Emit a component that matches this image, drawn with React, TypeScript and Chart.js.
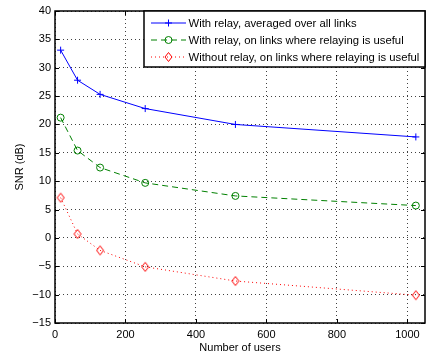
import React, { useEffect, useRef } from 'react';
import { Chart, registerables } from 'chart.js';

Chart.register(...registerables);

const users = [16, 64, 128, 256, 512, 1024];
const relayAll = [33.1, 27.8, 25.3, 22.8, 20.0, 17.8];
const relayUseful = [21.2, 15.4, 12.4, 9.7, 7.4, 5.7];
const noRelayUseful = [7.1, 0.7, -2.2, -5.1, -7.6, -10.1];
const seriesLabels = [
  'With relay, averaged over all links',
  'With relay, on links where relaying is useful',
  'Without relay, on links where relaying is useful',
];
const xTicks = [0, 200, 400, 600, 800, 1000];
const yTicks = [-15, -10, -5, 0, 5, 10, 15, 20, 25, 30, 35, 40];
const xTitle = 'Number of users';
const yTitle = 'SNR (dB)';

const FONT = '"Liberation Sans", Arial, Helvetica, sans-serif';

function makeDiamond(color: string): HTMLCanvasElement {
  const c = document.createElement('canvas');
  c.width = 10;
  c.height = 12;
  const g = c.getContext('2d')!;
  g.strokeStyle = color;
  g.lineWidth = 1;
  g.beginPath();
  g.moveTo(5, 1.5);
  g.lineTo(8.5, 6);
  g.lineTo(5, 10.5);
  g.lineTo(1.5, 6);
  g.closePath();
  g.stroke();
  return c;
}

const STYLES = [
  { color: '#0000ff', dash: [] as number[], marker: 'cross' },
  { color: '#008000', dash: [6, 4], marker: 'circle' },
  { color: '#ff0000', dash: [1, 3], marker: 'diamond' },
];

const framePlugin = {
  id: 'frameAndLegend',
  afterDatasetsDraw(chart: any) {
    const { ctx, chartArea } = chart;
    const { left, right, top, bottom } = chartArea;
    const xs = chart.scales.x;
    const ys = chart.scales.y;
    ctx.save();
    ctx.strokeStyle = '#000';
    ctx.lineWidth = 1;
    ctx.setLineDash([]);
    const tl = 4;
    ctx.beginPath();
    xTicks.forEach((v) => {
      const px = Math.round(xs.getPixelForValue(v)) + 0.5;
      ctx.moveTo(px, bottom);
      ctx.lineTo(px, bottom - tl);
      ctx.moveTo(px, top);
      ctx.lineTo(px, top + tl);
    });
    yTicks.forEach((v) => {
      const py = Math.round(ys.getPixelForValue(v)) + 0.5;
      ctx.moveTo(left, py);
      ctx.lineTo(left + tl, py);
      ctx.moveTo(right, py);
      ctx.lineTo(right - tl, py);
    });
    ctx.stroke();
    ctx.lineWidth = 1.5;
    ctx.strokeRect(left, top, right - left, bottom - top);

    const lw = 281;
    const lh = 56;
    const lx0 = right - lw;
    const ly0 = top;
    ctx.fillStyle = '#fff';
    ctx.fillRect(lx0, ly0, lw, lh);
    ctx.lineWidth = 1.5;
    ctx.strokeStyle = '#000';
    ctx.strokeRect(lx0, ly0, lw, lh);
    ctx.font = '11.3px ' + FONT;
    ctx.textBaseline = 'middle';
    ctx.textAlign = 'left';
    seriesLabels.forEach((label, i) => {
      const st = STYLES[i];
      const y = ly0 + 12 + i * 17;
      ctx.strokeStyle = st.color;
      ctx.lineWidth = 1;
      ctx.setLineDash(st.dash);
      ctx.beginPath();
      ctx.moveTo(lx0 + 7, y);
      ctx.lineTo(lx0 + 42, y);
      ctx.stroke();
      ctx.setLineDash([]);
      const mx = lx0 + 24.5;
      ctx.beginPath();
      if (st.marker === 'cross') {
        ctx.moveTo(mx - 3.5, y);
        ctx.lineTo(mx + 3.5, y);
        ctx.moveTo(mx, y - 3.5);
        ctx.lineTo(mx, y + 3.5);
      } else if (st.marker === 'circle') {
        ctx.arc(mx, y, 3.5, 0, Math.PI * 2);
      } else {
        ctx.moveTo(mx, y - 4.5);
        ctx.lineTo(mx + 3.5, y);
        ctx.lineTo(mx, y + 4.5);
        ctx.lineTo(mx - 3.5, y);
        ctx.closePath();
      }
      ctx.stroke();
      ctx.fillStyle = '#000';
      ctx.fillText(label, lx0 + 44.5, y + 0.5);
    });
    ctx.restore();
  },
};

export default function App() {
  const ref = useRef<HTMLCanvasElement | null>(null);
  useEffect(() => {
    if (!ref.current) return;
    Chart.defaults.font.family = FONT;
    const diamond = makeDiamond('#ff0000');
    const mk = (ys: number[]) => users.map((x, i) => ({ x, y: ys[i] }));
    const chart = new Chart(ref.current, {
      type: 'line',
      data: {
        datasets: [
          {
            label: seriesLabels[0],
            data: mk(relayAll),
            borderColor: '#0000ff',
            borderWidth: 1,
            pointStyle: 'cross',
            pointRadius: 3.5,
            pointBorderColor: '#0000ff',
            pointBorderWidth: 1,
            fill: false,
            tension: 0,
          },
          {
            label: seriesLabels[1],
            data: mk(relayUseful),
            borderColor: '#008000',
            borderWidth: 1,
            borderDash: [6, 4],
            pointStyle: 'circle',
            pointRadius: 3.5,
            pointBackgroundColor: 'rgba(0,0,0,0)',
            pointBorderColor: '#008000',
            pointBorderWidth: 1,
            fill: false,
            tension: 0,
          },
          {
            label: seriesLabels[2],
            data: mk(noRelayUseful),
            borderColor: '#ff0000',
            borderWidth: 1,
            borderDash: [1, 3],
            pointStyle: diamond as any,
            pointRadius: 4,
            pointBorderColor: '#ff0000',
            fill: false,
            tension: 0,
          },
        ],
      },
      options: {
        animation: false,
        responsive: false,
        events: [],
        layout: { padding: { left: 0, top: 11, right: 3, bottom: 0 } },
        plugins: { legend: { display: false }, tooltip: { enabled: false } },
        scales: {
          x: {
            type: 'linear',
            min: 0,
            max: 1050,
            afterBuildTicks: (s: any) => {
              s.ticks = xTicks.map((v) => ({ value: v }));
            },
            afterFit: (s: any) => {
              s.height = 33;
            },
            ticks: {
              color: '#000',
              font: { size: 11 },
              padding: 5,
              maxRotation: 0,
              autoSkip: false,
              callback: (v: any) => String(v),
            },
            grid: { color: 'rgba(0,0,0,0.75)', lineWidth: 1, drawTicks: false },
            border: { display: false, dash: [1, 3] },
            title: {
              display: true,
              text: xTitle,
              color: '#000',
              font: { size: 11 },
              padding: { top: 0, bottom: 1 },
            },
          },
          y: {
            type: 'linear',
            min: -15,
            max: 40,
            afterBuildTicks: (s: any) => {
              s.ticks = yTicks.map((v) => ({ value: v }));
            },
            afterFit: (s: any) => {
              s.width = 55;
            },
            ticks: {
              color: '#000',
              font: { size: 11 },
              padding: 4,
              autoSkip: false,
              callback: (v: any) => String(v).replace('-', '\u2212'),
            },
            grid: { color: 'rgba(0,0,0,0.75)', lineWidth: 1, drawTicks: false },
            border: { display: false, dash: [1, 3] },
            title: {
              display: true,
              text: yTitle,
              color: '#000',
              font: { size: 11 },
              padding: { top: 13, bottom: 0 },
            },
          },
        },
      },
      plugins: [framePlugin],
    } as any);
    return () => chart.destroy();
  }, []);
  return (
    <div style={{ position: 'fixed', left: 0, top: 0, width: 430, height: 356, background: '#fff' }}>
      <canvas ref={ref} width={430} height={356} style={{ display: 'block' }} />
    </div>
  );
}
